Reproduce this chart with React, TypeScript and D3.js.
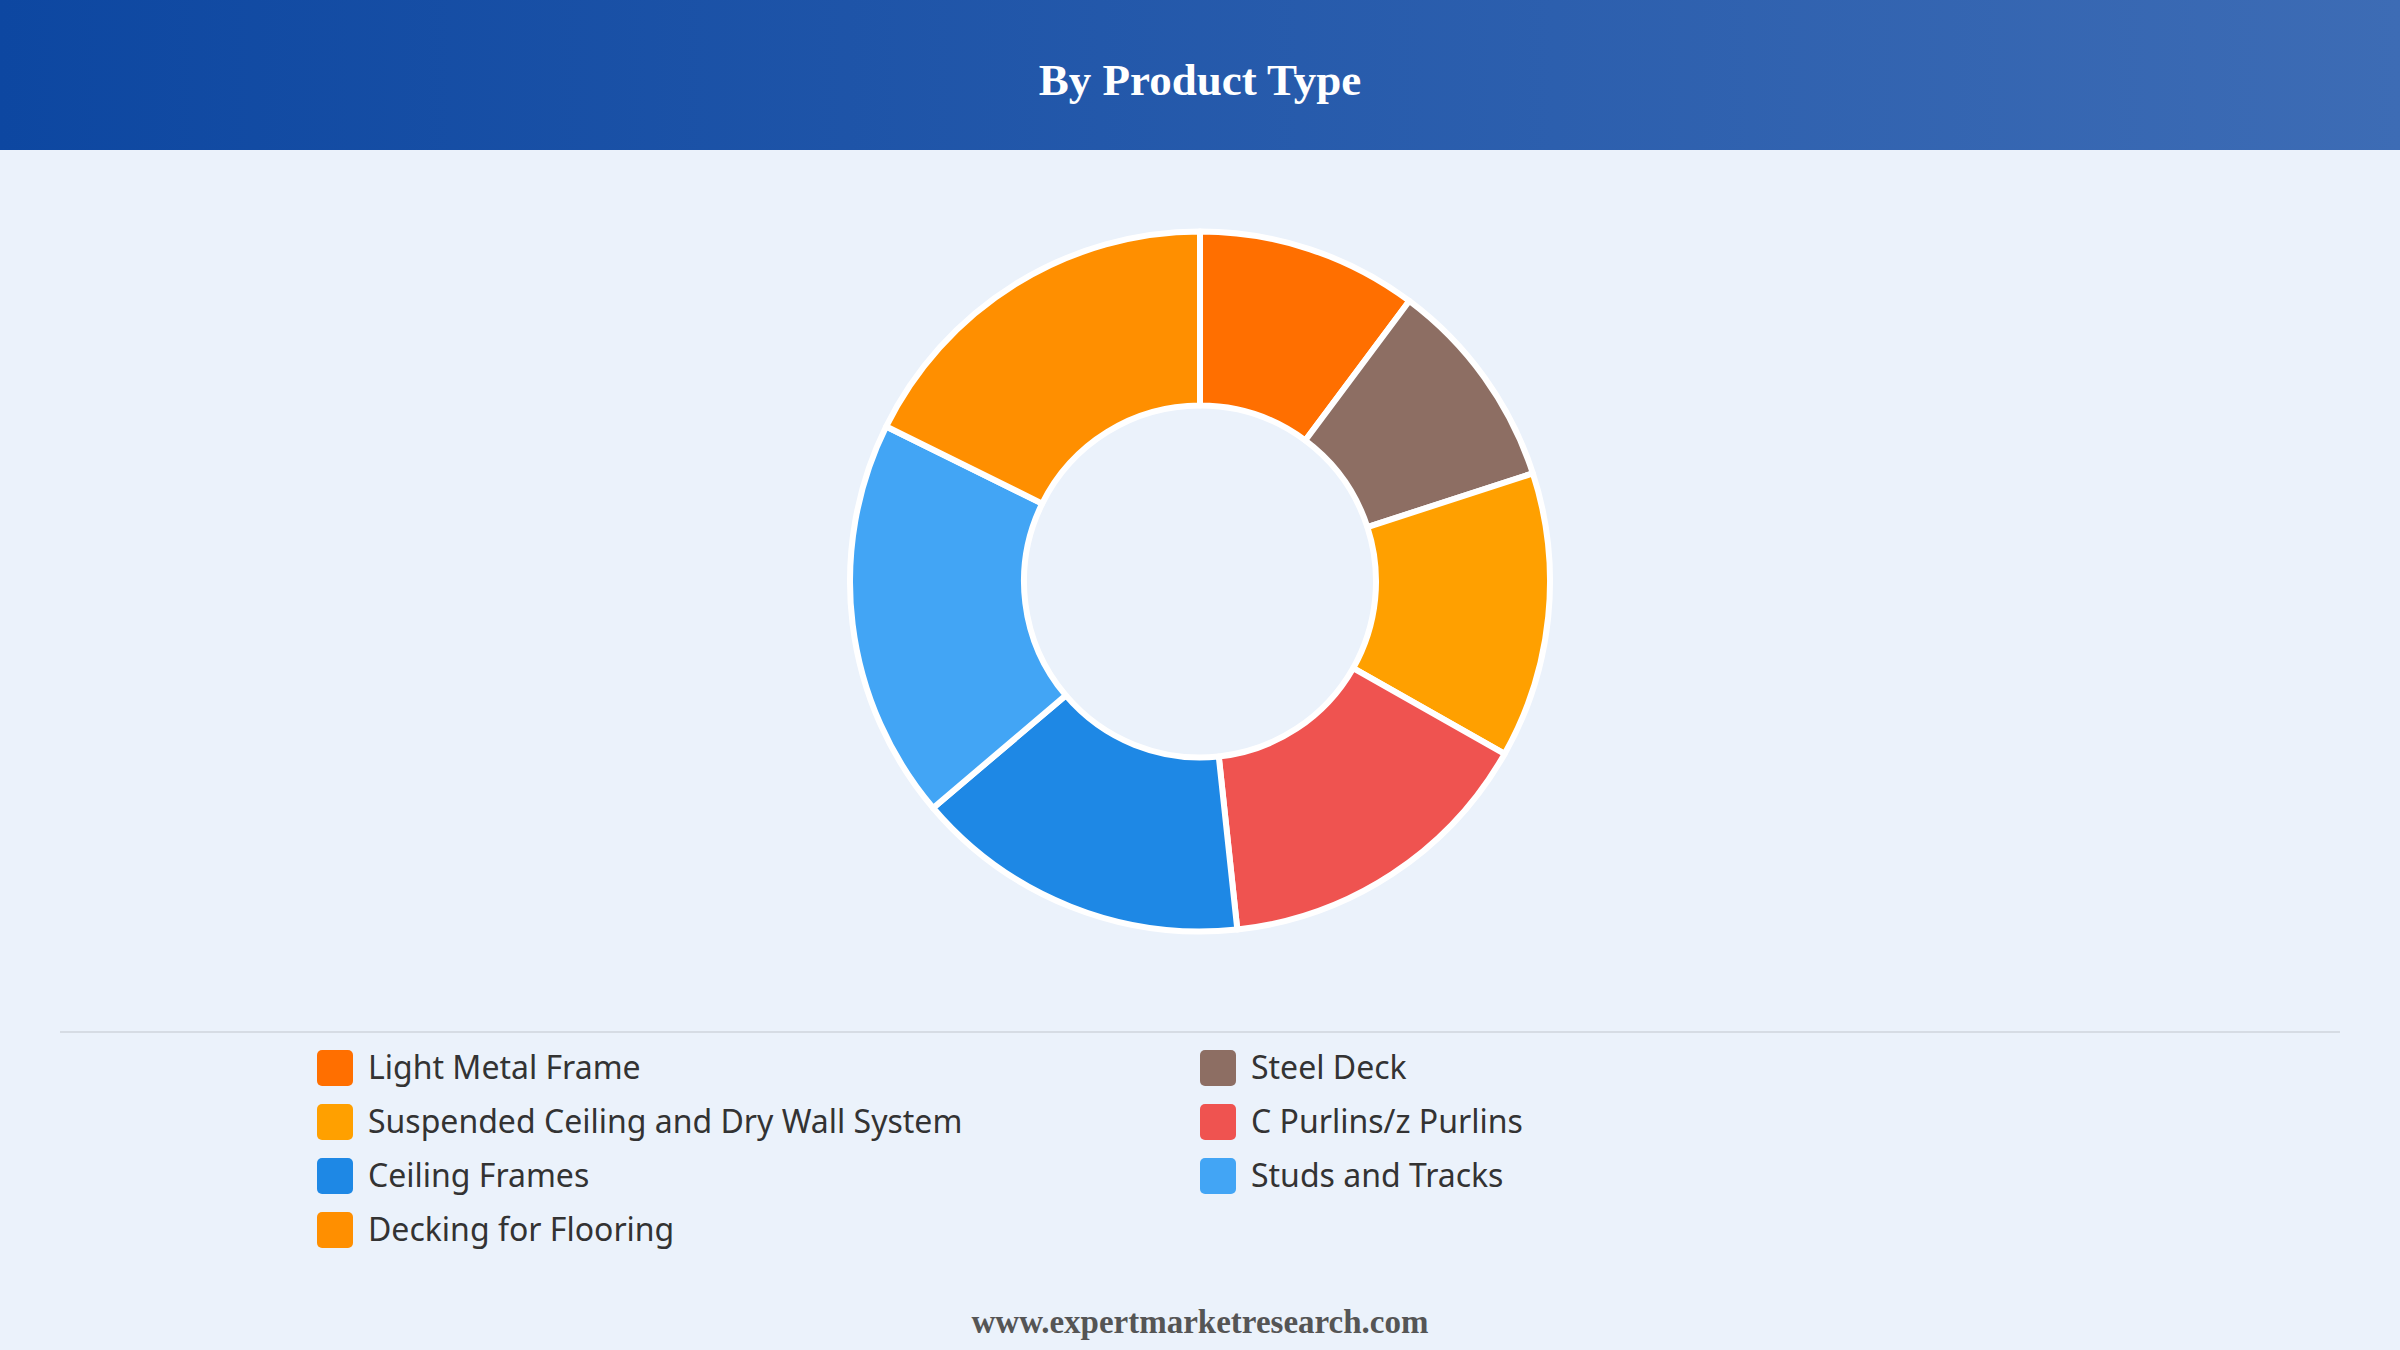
import React, { useEffect, useRef } from 'react';
import * as d3 from 'd3';

// Product type shares (%), read from the donut, clockwise from 12 o'clock
const categories = [
  'Light Metal Frame',
  'Steel Deck',
  'Suspended Ceiling and Dry Wall System',
  'C Purlins/z Purlins',
  'Ceiling Frames',
  'Studs and Tracks',
  'Decking for Flooring',
];
const shares = [10.2, 9.8, 13.2, 15.1, 15.5, 18.5, 17.7];
const colors = ['#FF6F00', '#8D6E63', '#FFA000', '#EF5350', '#1E88E5', '#42A5F5', '#FF8F00'];

const title = 'By Product Type';
const footer = 'www.expertmarketresearch.com';

const W = 2400;
const H = 1350;

const App: React.FC = () => {
  const svgRef = useRef<SVGSVGElement>(null);

  useEffect(() => {
    document.body.style.margin = '0';
    if (!svgRef.current) return;
    const svg = d3.select(svgRef.current);
    svg.selectAll('*').remove();

    // background + header band
    const defs = svg.append('defs');
    const grad = defs.append('linearGradient').attr('id', 'hdr').attr('x1', '0%').attr('x2', '100%');
    grad.append('stop').attr('offset', '0%').attr('stop-color', '#0D47A1');
    grad.append('stop').attr('offset', '100%').attr('stop-color', '#3D6CB5');

    svg.append('rect').attr('width', W).attr('height', H).attr('fill', '#EBF2FB');
    svg.append('rect').attr('width', W).attr('height', 150).attr('fill', 'url(#hdr)');

    svg.append('text')
      .text(title)
      .attr('x', W / 2)
      .attr('y', 95)
      .attr('text-anchor', 'middle')
      .attr('fill', '#ffffff')
      .attr('font-family', '"Liberation Serif", "Times New Roman", serif')
      .attr('font-weight', 'bold')
      .attr('font-size', 45);

    // donut
    const cx = 1200;
    const cy = 581.5;
    const outerR = 350;
    const innerR = 176;

    const pie = d3.pie<number>().sort(null).value((d) => d);
    const arc = d3.arc<d3.PieArcDatum<number>>().innerRadius(innerR).outerRadius(outerR);

    const g = svg.append('g').attr('transform', `translate(${cx},${cy})`);
    g.selectAll('path')
      .data(pie(shares))
      .join('path')
      .attr('d', arc)
      .attr('fill', (_, i) => colors[i])
      .attr('stroke', '#ffffff')
      .attr('stroke-width', 6)
      .attr('stroke-linejoin', 'round');

    // separator
    svg.append('line')
      .attr('x1', 60)
      .attr('x2', 2340)
      .attr('y1', 1032)
      .attr('y2', 1032)
      .attr('stroke', '#D6DCE4')
      .attr('stroke-width', 2);

    // legend: two columns, row-major
    const colX = d3.scaleOrdinal<number, number>().domain([0, 1]).range([317, 1200]);
    const rowY = d3.scaleLinear().domain([0, 1]).range([1068, 1122]);
    const sw = 36;

    const items = svg.append('g')
      .selectAll('g')
      .data(categories)
      .join('g')
      .attr('transform', (_, i) => `translate(${colX(i % 2)},${rowY(Math.floor(i / 2))})`);

    items.append('rect')
      .attr('x', 0)
      .attr('y', -sw / 2)
      .attr('width', sw)
      .attr('height', sw)
      .attr('rx', 5)
      .attr('fill', (_, i) => colors[i]);

    items.append('text')
      .text((d) => d)
      .attr('x', 51)
      .attr('dy', '0.35em')
      .attr('fill', '#333333')
      .attr('font-family', '"Noto Sans", "Open Sans", sans-serif')
      .attr('font-size', 32);

    svg.append('text')
      .text(footer)
      .attr('x', W / 2)
      .attr('y', 1333)
      .attr('text-anchor', 'middle')
      .attr('fill', '#555555')
      .attr('font-family', '"Liberation Serif", "Times New Roman", serif')
      .attr('font-weight', 'bold')
      .attr('font-size', 33);
  }, []);

  return <svg ref={svgRef} width={W} height={H} style={{ display: 'block' }} />;
};

export default App;
